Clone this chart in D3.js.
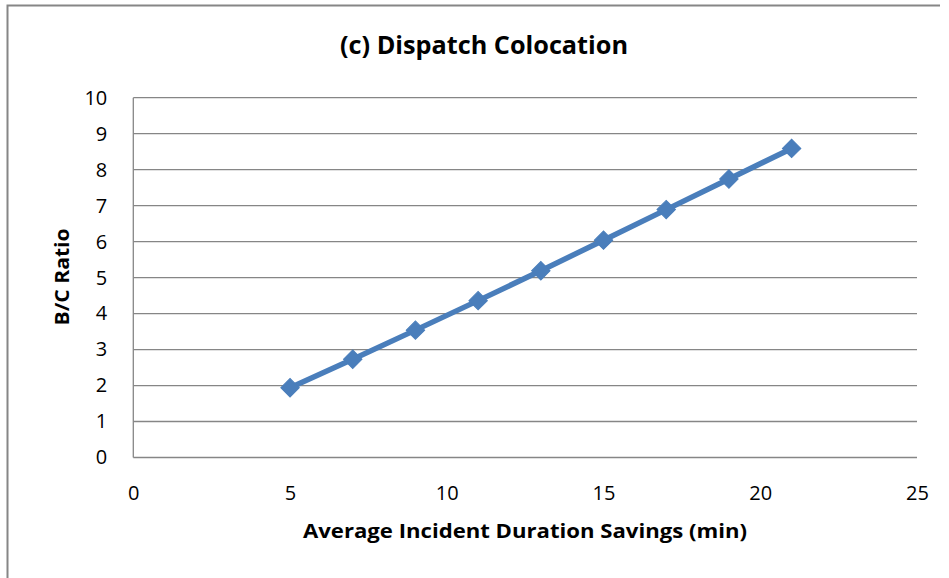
<!DOCTYPE html>
<html>
<head>
<meta charset="utf-8">
<script src="https://cdn.jsdelivr.net/npm/d3@7"></script>
<style>
  html, body { margin: 0; padding: 0; background: #fff; }
  svg { display: block; }
</style>
</head>
<body>
<svg id="chart" width="949" height="578"></svg>
<script>
// ---- data ----
const xValues = [5, 7, 9, 11, 13, 15, 17, 19, 21];
const bcRatio = [1.94, 2.73, 3.54, 4.36, 5.19, 6.04, 6.89, 7.74, 8.59];
const xTicks = [0, 5, 10, 15, 20, 25];
const yTicks = [0, 1, 2, 3, 4, 5, 6, 7, 8, 9, 10];
const titleText = "(c) Dispatch Colocation";
const xTitle = "Average Incident Duration Savings (min)";
const yTitle = "B/C Ratio";

// ---- layout ----
const svg = d3.select("#chart");
const plot = { left: 133.3, right: 917, top: 97.7, bottom: 457.5 };
const font = "'Open Sans', 'Liberation Sans', sans-serif";
const gridColor = "#868686";
const lineColor = "#4A7EBB";

const x = d3.scaleLinear().domain([0, 25]).range([plot.left, plot.right]);
const y = d3.scaleLinear().domain([0, 10]).range([plot.bottom, plot.top]);

// outer frame (partial, as in reference)
svg.append("path")
  .attr("d", d3.line()([[7.5, 578], [7.5, 5.5], [940, 5.5]]))
  .attr("fill", "none").attr("stroke", "#868686").attr("stroke-width", 2);

// gridlines
svg.append("g").selectAll("line").data(yTicks).join("line")
  .attr("x1", plot.left).attr("x2", plot.right)
  .attr("y1", d => y(d)).attr("y2", d => y(d))
  .attr("stroke", gridColor).attr("stroke-width", 1.3);

// y axis line
svg.append("line")
  .attr("x1", plot.left).attr("x2", plot.left)
  .attr("y1", plot.top).attr("y2", plot.bottom)
  .attr("stroke", gridColor).attr("stroke-width", 1.3);

// axes (labels only)
const yAxis = d3.axisLeft(y).tickValues(yTicks).tickSize(0).tickPadding(26).tickFormat(d3.format("d"));
const gy = svg.append("g").attr("transform", `translate(${plot.left},0)`).call(yAxis);
gy.select(".domain").remove();
gy.selectAll("text").attr("font-family", font).attr("font-size", 20).attr("fill", "#000");

const xAxis = d3.axisBottom(x).tickValues(xTicks).tickSize(0).tickPadding(27).tickFormat(d3.format("d"));
const gx = svg.append("g").attr("transform", `translate(0,${plot.bottom})`).call(xAxis);
gx.select(".domain").remove();
gx.selectAll("text").attr("font-family", font).attr("font-size", 20).attr("fill", "#000")
  .attr("dy", "0.32em").attr("y", 36);

// series line
const pts = xValues.map((v, i) => [x(v), y(bcRatio[i])]);
svg.append("path")
  .attr("d", d3.line()(pts))
  .attr("fill", "none").attr("stroke", lineColor).attr("stroke-width", 5.5)
  .attr("stroke-linejoin", "round");

// diamond markers
const diamond = d3.symbol().type(d3.symbolSquare).size(170);
svg.append("g").selectAll("path").data(pts).join("path")
  .attr("d", diamond)
  .attr("transform", d => `translate(${d[0]},${d[1]}) rotate(45)`)
  .attr("fill", lineColor).attr("stroke", lineColor).attr("stroke-width", 1);

// titles
svg.append("text")
  .attr("x", 484).attr("y", 54)
  .attr("text-anchor", "middle")
  .attr("font-family", font).attr("font-weight", "bold").attr("font-size", 25)
  .attr("textLength", 288).attr("lengthAdjust", "spacingAndGlyphs")
  .text(titleText);

svg.append("text")
  .attr("x", 525).attr("y", 538)
  .attr("text-anchor", "middle")
  .attr("font-family", font).attr("font-weight", "bold").attr("font-size", 20)
  .attr("textLength", 444).attr("lengthAdjust", "spacingAndGlyphs")
  .text(xTitle);

svg.append("text")
  .attr("transform", "translate(69,277) rotate(-90)")
  .attr("text-anchor", "middle")
  .attr("font-family", font).attr("font-weight", "bold").attr("font-size", 20)
  .attr("textLength", 97).attr("lengthAdjust", "spacingAndGlyphs")
  .text(yTitle);
</script>
</body>
</html>
